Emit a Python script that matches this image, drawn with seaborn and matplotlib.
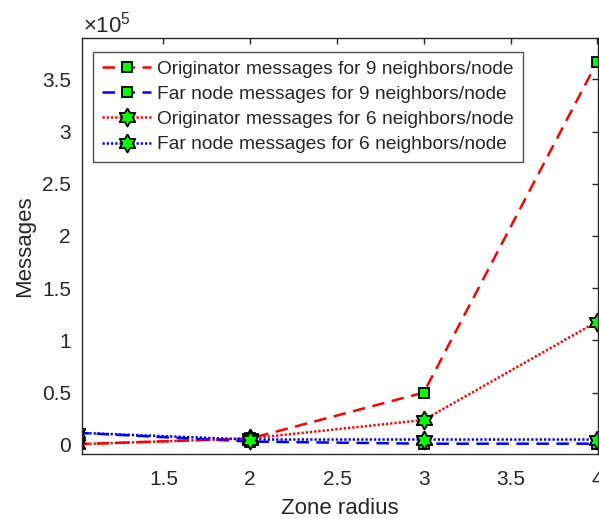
import numpy as np
import pandas as pd
import matplotlib
matplotlib.use("Agg")
import matplotlib.pyplot as plt
from matplotlib.ticker import FuncFormatter
import seaborn as sns

# ---- data ----
zone_radius = [1, 2, 3, 4]
orig_9 = [500, 6000, 50000, 367000]
far_9 = [11500, 3000, 1000, 1000]
orig_6 = [500, 6000, 23700, 118000]
far_6 = [11500, 5000, 5000, 5000]
labels = [
    "Originator messages for 9 neighbors/node",
    "Far node messages for 9 neighbors/node",
    "Originator messages for 6 neighbors/node",
    "Far node messages for 6 neighbors/node",
]
x_ticks = [1.5, 2, 2.5, 3, 3.5, 4]
y_ticks = [0, 50000, 100000, 150000, 200000, 250000, 300000, 350000]

sns.set_theme(style="white")
plt.rcParams['font.family'] = ['Liberation Sans', 'DejaVu Sans']
plt.rcParams['mathtext.fontset'] = 'custom'
plt.rcParams['mathtext.rm'] = 'Liberation Sans'
plt.rcParams['mathtext.it'] = 'Liberation Sans'

dark = '#262626'
W, H = 599, 519
fig = plt.figure(figsize=(W/100, H/100), dpi=100)
ax_l, ax_r, ax_t, ax_b = 82, 598, 38, 453.5
ax = fig.add_axes([ax_l/W, (H-ax_b)/H, (ax_r-ax_l)/W, (ax_b-ax_t)/H])

# six-pointed star (hexagram) marker
ang_out = np.pi/2 + np.arange(6) * np.pi/3
ang_in = ang_out + np.pi/6
r_in = 1/np.sqrt(3)
verts = []
for a, b in zip(ang_out, ang_in):
    verts.append((np.cos(a), np.sin(a)))
    verts.append((r_in*np.cos(b), r_in*np.sin(b)))
verts.append(verts[0])
hexagram = np.array(verts)

dash = (0, (5.0, 3.0))
dot = (0, (0.9, 0.8))
series = [
    (orig_9, 'red', dash, 's', 7.8),
    (far_9, 'blue', dash, 's', 7.8),
    (orig_6, 'red', dot, hexagram, 13),
    (far_6, 'blue', dot, hexagram, 13),
]
for (vals, col, ls, mk, ms), lab in zip(series, labels):
    df = pd.DataFrame({"x": zone_radius, "y": vals})
    sns.lineplot(data=df, x="x", y="y", ax=ax, color=col, linestyle=ls,
                 linewidth=1.8, marker=mk, markersize=ms,
                 markerfacecolor=(0, 1, 0), markeredgecolor='black',
                 markeredgewidth=1.3, label=lab)

ax.set_xlim(1.031, 4.004)
ax.set_ylim(-8400, 389600)
ax.set_xticks(x_ticks)
ax.set_xticklabels([f"{v:g}" for v in x_ticks])
ax.set_yticks(y_ticks)
ax.yaxis.set_major_formatter(FuncFormatter(lambda v, p: f"{v/1e5:g}"))

for s in ax.spines.values():
    s.set_color(dark)
    s.set_linewidth(1.0)
ax.tick_params(direction='in', top=True, right=True, length=4, width=1.0,
               colors=dark, labelsize=15, labelcolor=dark)
ax.tick_params(axis='x', pad=12)
ax.tick_params(axis='y', pad=8)

ax.set_xlabel("Zone radius", fontsize=16, color=dark, labelpad=6.5)
ax.set_ylabel("Messages", fontsize=16, color=dark, labelpad=5)
ax.text(0.001, 1 + 6/(ax_b-ax_t), r"$\times\mathrm{10}^{5}$", transform=ax.transAxes,
        fontsize=16, color=dark, ha='left', va='baseline')

leg = ax.legend(loc='upper left', bbox_to_anchor=((93-ax_l)/(ax_r-ax_l), 1 - 14/(ax_b-ax_t)),
                fontsize=13.8, frameon=True, fancybox=False, handlelength=2.6,
                handletextpad=0.3, labelspacing=0.40, borderpad=0.45, borderaxespad=0)
leg.get_frame().set_edgecolor(dark)
leg.get_frame().set_linewidth(1.0)
for t in leg.get_texts():
    t.set_color(dark)

fig.savefig("out.png", dpi=100)
